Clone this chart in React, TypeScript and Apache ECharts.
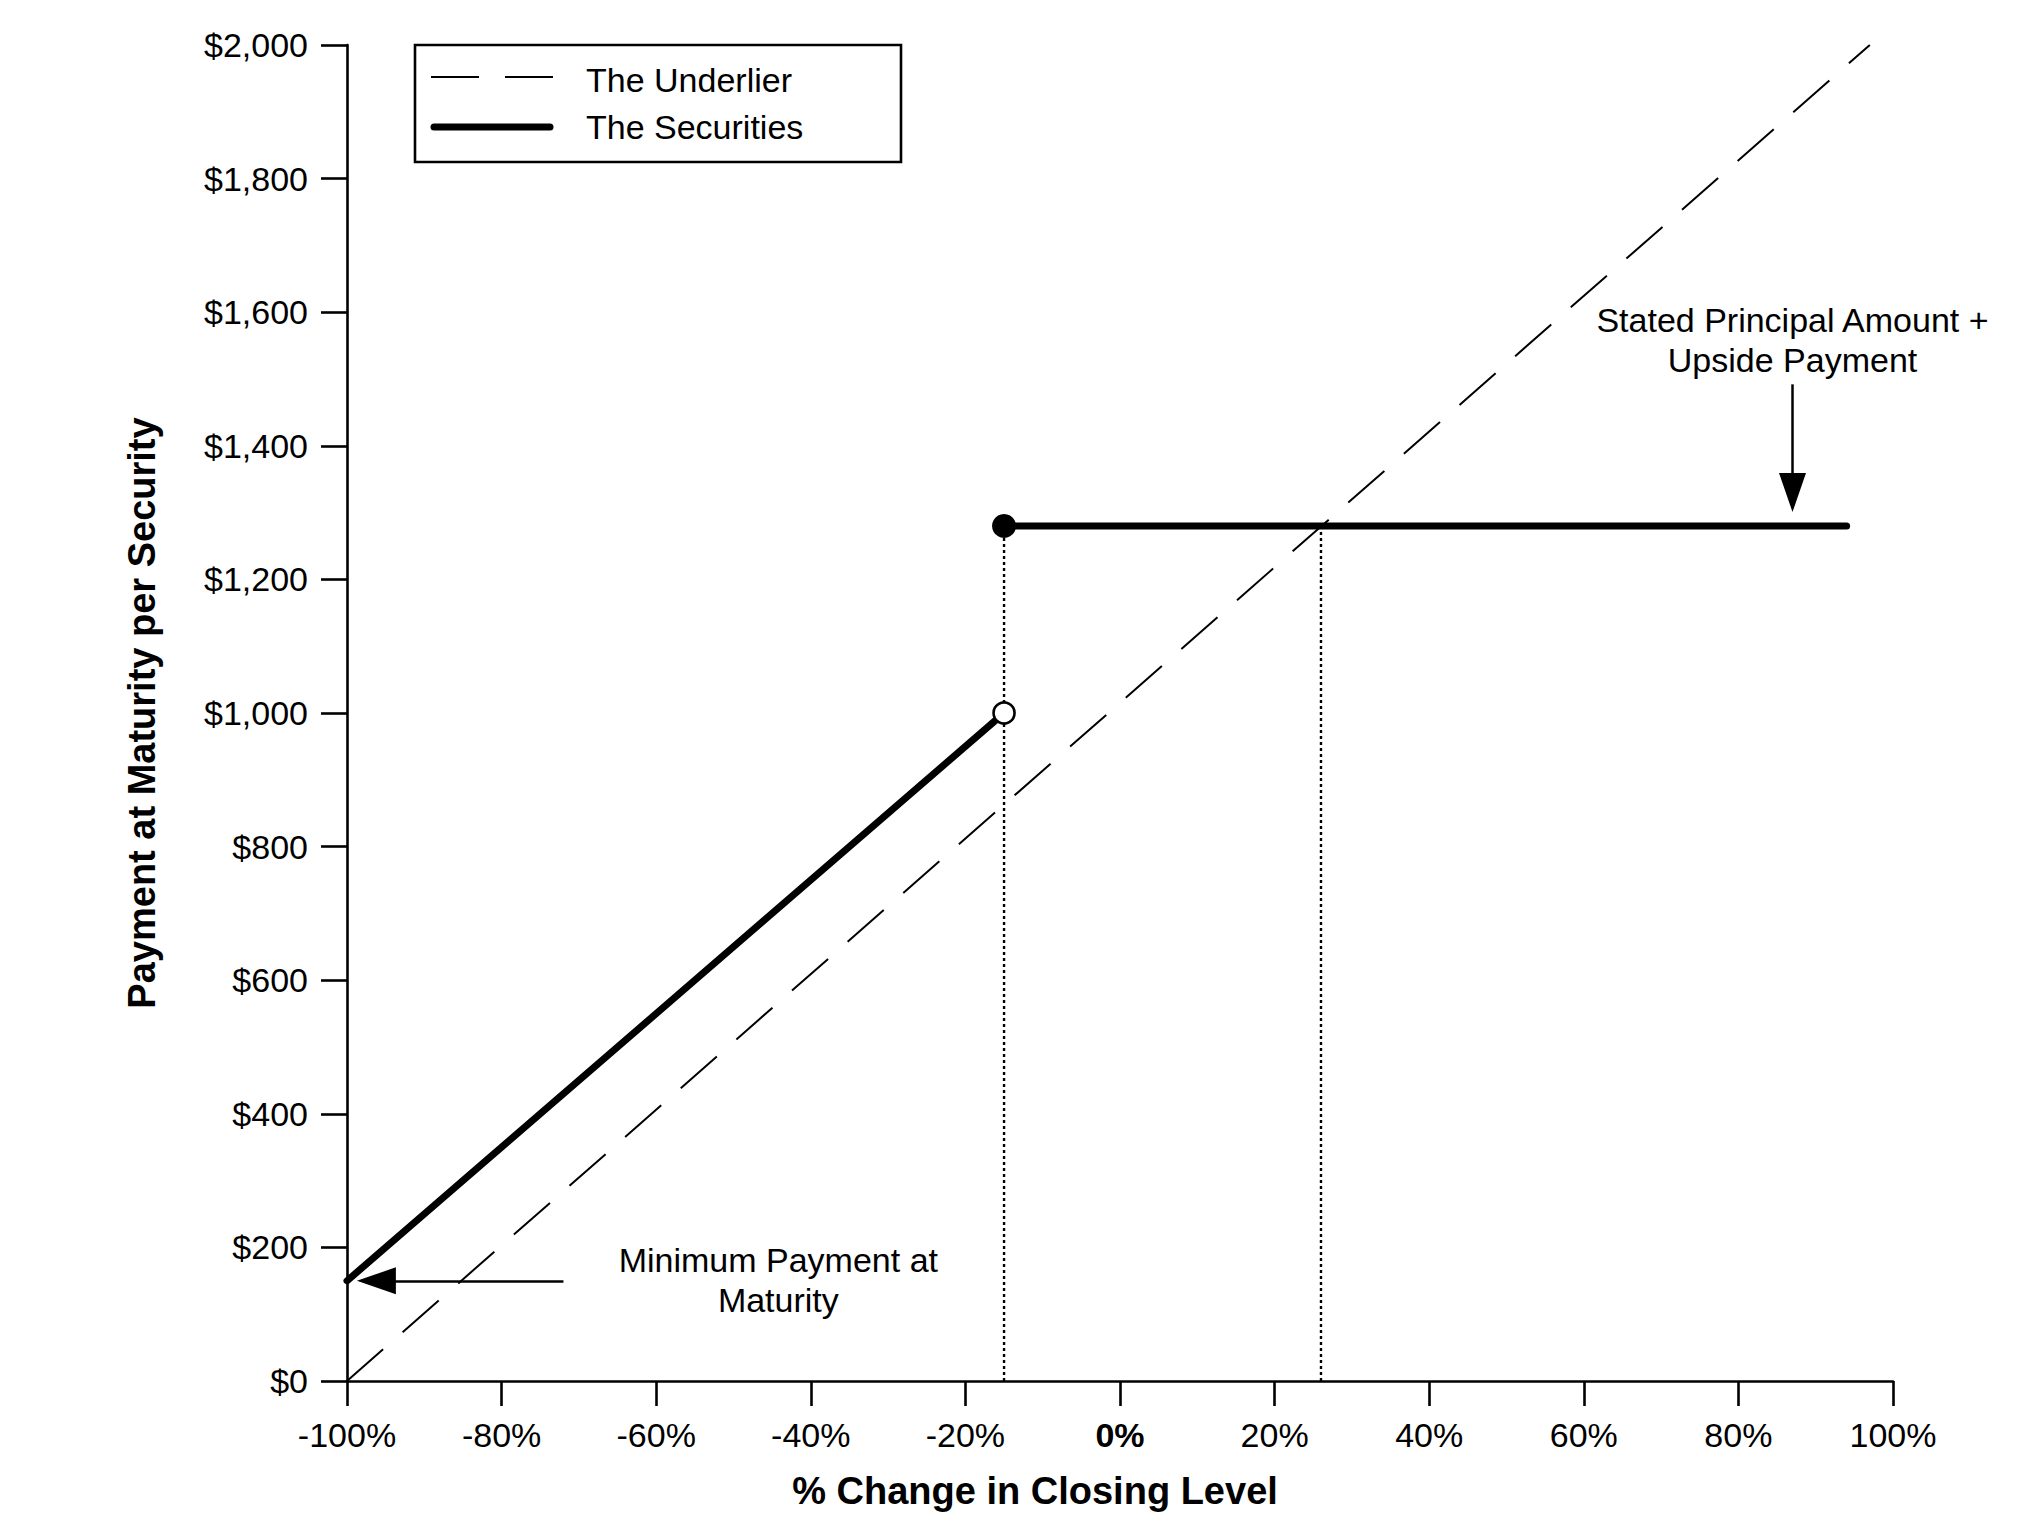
import React, { useEffect, useRef } from "react";
import * as echarts from "echarts";

// ---- data ----
const xTicksMin = -100;
const xTicksMax = 100;
const xTickStep = 20;
const yMin = 0;
const yMax = 2000;
const yStep = 200;

const underlierPts = [
  [-100, 0],
  [97, 2000],
];
const securitiesLowPts = [
  [-100, 150],
  [-15, 1000],
];
const securitiesHighPts = [
  [-15, 1280],
  [94, 1280],
];
const filledDot = [[-15, 1280]];
const openDot = [[-15, 1000]];
const dropLineA = [
  [-15, 0],
  [-15, 1280],
];
const dropLineB = [
  [26, 0],
  [26, 1280],
];
const minArrow = [
  [-72, 150],
  [-96.2, 150],
];
const capArrow = [
  [87, 1492],
  [87, 1330],
];
const minLabelPos = [-44.2, 151];
const minLabelLines = ["Minimum Payment at", "Maturity"];
const capLabelPos = [87, 1558];
const capLabelLines = ["Stated Principal Amount +", "Upside Payment"];
const legendNames = ["The Underlier", "The Securities"];
const xTitle = "% Change in Closing Level";
const yTitle = "Payment at Maturity per Security";

const FONT = "'Liberation Sans', Arial, Helvetica, sans-serif";

export default function App() {
  const ref = useRef<HTMLDivElement>(null);

  useEffect(() => {
    const el = ref.current;
    if (!el) return;
    const chart = echarts.init(el, null, { renderer: "svg" });

    const axisLineStyle = { color: "#000", width: 2.6 };

    chart.setOption({
      animation: false,
      backgroundColor: "#fff",
      textStyle: { fontFamily: FONT },
      grid: { left: 347, right: 146, top: 45, bottom: 159 },
      xAxis: {
        type: "value",
        min: xTicksMin,
        max: xTicksMax,
        interval: xTickStep,
        axisLine: { show: true, onZero: false, lineStyle: axisLineStyle },
        axisTick: { show: true, length: 25, lineStyle: axisLineStyle },
        splitLine: { show: false },
        axisLabel: {
          margin: 37,
          fontSize: 34,
          color: "#000",
          fontFamily: FONT,
          formatter: (v: number) => (v === 0 ? "{b|0%}" : `${v}%`),
          rich: {
            b: { fontWeight: "bold", fontSize: 34, color: "#000", fontFamily: FONT },
          },
        },
      },
      yAxis: {
        type: "value",
        min: yMin,
        max: yMax,
        interval: yStep,
        name: yTitle,
        nameLocation: "middle",
        nameGap: 186,
        nameRotate: 90,
        nameTextStyle: { fontSize: 38, fontWeight: "bold", color: "#000", fontFamily: FONT },
        axisLine: { show: true, onZero: false, lineStyle: axisLineStyle },
        axisTick: { show: true, length: 26, lineStyle: axisLineStyle },
        splitLine: { show: false },
        axisLabel: {
          margin: 39,
          fontSize: 34,
          color: "#000",
          fontFamily: FONT,
          formatter: (v: number) => "$" + v.toLocaleString("en-US"),
        },
      },
      series: [
        {
          type: "line",
          name: legendNames[0],
          data: underlierPts,
          symbol: "none",
          silent: true,
          z: 2,
          lineStyle: { color: "#000", width: 2, type: [48, 26] },
          markLine: {
            silent: true,
            symbol: ["none", "triangle"],
            symbolSize: [27, 39],
            label: { show: false },
            lineStyle: { color: "#000", width: 2.5, type: "solid" },
            itemStyle: { color: "#000" },
            emphasis: { disabled: true },
            data: [
              [{ coord: minArrow[0] }, { coord: minArrow[1] }],
              [{ coord: capArrow[0] }, { coord: capArrow[1] }],
            ],
          },
        },
        {
          type: "line",
          name: "dropA",
          data: dropLineA,
          symbol: "none",
          silent: true,
          z: 2,
          lineStyle: { color: "#000", width: 2.4, type: [3, 3] },
        },
        {
          type: "line",
          name: "dropB",
          data: dropLineB,
          symbol: "none",
          silent: true,
          z: 2,
          lineStyle: { color: "#000", width: 2.4, type: [3, 3] },
        },
        {
          type: "line",
          name: legendNames[1],
          data: securitiesLowPts,
          symbol: "none",
          silent: true,
          z: 3,
          lineStyle: { color: "#000", width: 7, cap: "round" },
        },
        {
          type: "line",
          name: legendNames[1],
          data: securitiesHighPts,
          symbol: "none",
          silent: true,
          z: 3,
          lineStyle: { color: "#000", width: 7, cap: "round" },
        },
        {
          type: "scatter",
          data: filledDot,
          symbol: "circle",
          symbolSize: 24,
          silent: true,
          z: 5,
          itemStyle: { color: "#000", opacity: 1 },
        },
        {
          type: "scatter",
          data: openDot,
          symbol: "circle",
          symbolSize: 21,
          silent: true,
          z: 5,
          itemStyle: { color: "#fff", borderColor: "#000", borderWidth: 2.6, opacity: 1 },
        },
      ],
    });

    const capPx = chart.convertToPixel({ gridIndex: 0 }, capLabelPos) as number[];
    const minPx = chart.convertToPixel({ gridIndex: 0 }, minLabelPos) as number[];

    chart.setOption({
      graphic: [
        {
          type: "text",
          x: capPx[0],
          y: capPx[1],
          silent: true,
          style: {
            text: capLabelLines.join("\n"),
            fontSize: 34,
            lineHeight: 40,
            fontFamily: FONT,
            fill: "#000",
            align: "center",
            verticalAlign: "middle",
          },
        },
        {
          type: "text",
          x: minPx[0],
          y: minPx[1],
          silent: true,
          style: {
            text: minLabelLines.join("\n"),
            fontSize: 34,
            lineHeight: 40,
            fontFamily: FONT,
            fill: "#000",
            align: "center",
            verticalAlign: "middle",
          },
        },
        {
          type: "text",
          x: 1035,
          y: 1491,
          silent: true,
          style: {
            text: xTitle,
            fontSize: 38,
            fontWeight: "bold",
            fontFamily: FONT,
            fill: "#000",
            align: "center",
            verticalAlign: "middle",
          },
        },
        {
          type: "group",
          silent: true,
          children: [
            {
              type: "rect",
              shape: { x: 415, y: 45, width: 486, height: 117 },
              style: { fill: "#fff", stroke: "#000", lineWidth: 2.6 },
            },
            {
              type: "line",
              shape: { x1: 431, y1: 77, x2: 553, y2: 77 },
              style: { stroke: "#000", lineWidth: 2, lineDash: [48, 26] },
            },
            {
              type: "line",
              shape: { x1: 434, y1: 127, x2: 550, y2: 127 },
              style: { stroke: "#000", lineWidth: 7, lineCap: "round" },
            },
            {
              type: "text",
              x: 586,
              y: 80,
              style: {
                text: legendNames[0],
                fontSize: 34,
                fontFamily: FONT,
                fill: "#000",
                align: "left",
                verticalAlign: "middle",
              },
            },
            {
              type: "text",
              x: 586,
              y: 127,
              style: {
                text: legendNames[1],
                fontSize: 34,
                fontFamily: FONT,
                fill: "#000",
                align: "left",
                verticalAlign: "middle",
              },
            },
          ],
        },
      ],
    });

    return () => {
      chart.dispose();
    };
  }, []);

  return (
    <div
      ref={ref}
      style={{ position: "fixed", left: 0, top: 0, width: 2039, height: 1540, background: "#fff" }}
    />
  );
}
